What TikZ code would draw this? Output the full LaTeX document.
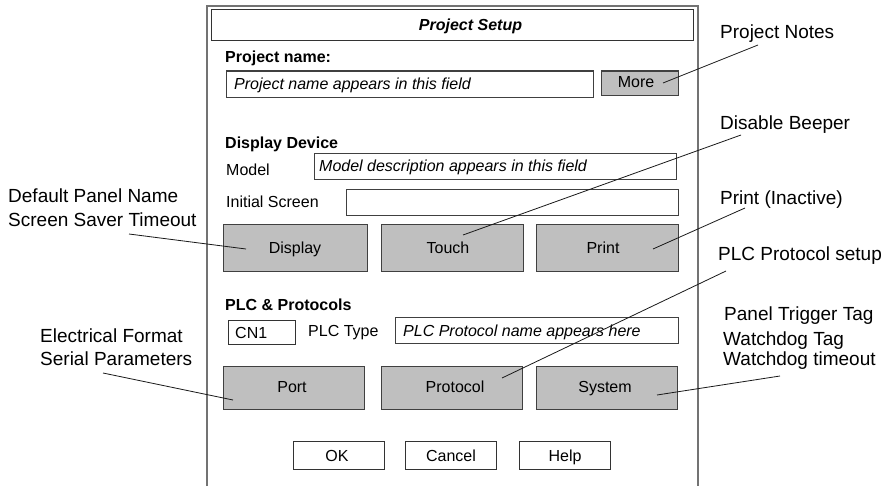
\documentclass[tikz,border=0pt]{standalone}
\usepackage{fontspec}
\setmainfont{Liberation Sans}
\tikzset{
 x=1pt,y=-1pt,
 frame/.style={draw=black!55,line width=1.3pt},
 fieldbox/.style={draw=black!75,line width=1pt,fill=white},
 btn/.style={draw=black!75,line width=1pt,fill=black!25},
 whitebtn/.style={draw=black!80,line width=1pt,fill=white},
 lbl/.style={anchor=base west,inner sep=0pt,font=\fontsize{16}{16}\selectfont},
 blbl/.style={lbl,font=\fontsize{16}{16}\selectfont\bfseries},
 ilbl/.style={lbl,font=\fontsize{16}{16}\selectfont\itshape},
 ctr/.style={anchor=base,inner sep=0pt,font=\fontsize{16}{16}\selectfont},
 call/.style={anchor=base west,inner sep=0pt,font=\fontsize{19}{19}\selectfont},
 cline/.style={draw=black!90,line width=0.8pt},
}
\newcommand{\boxnode}[6]{\node[#1,inner sep=0pt,outer sep=0pt,minimum width=#4pt-#2pt,minimum height=#5pt-#3pt,anchor=south east] (#6) at (#4,#5) {};}
\begin{document}
\begin{tikzpicture}
\useasboundingbox (0,0) rectangle (883,487);
\coordinate (fa) at (207,486);
\coordinate (fb) at (207,6);
\coordinate (fc) at (698,6);
\coordinate (fd) at (698,486);
\draw[frame] (fa) -- (fb) -- (fc) -- (fd);
\boxnode{whitebtn}{211}{10}{693}{41}{titlebox}
\node[ctr,font=\fontsize{16}{16}\selectfont\bfseries\itshape] (title) at (470.5,31) {Project Setup};
\node[blbl] (pn) at (225,63) {Project name:};
\boxnode{fieldbox}{226}{71}{593}{97}{pnbox}
\node[ilbl] (pnf) at (234,89) {Project name appears in this field};
\boxnode{btn}{601}{71}{678}{95}{morebox}
\node[ctr] (more) at (636,88) {More};
\node[blbl] (dd) at (225,148) {Display Device};
\node[lbl] (model) at (226,175) {Model};
\boxnode{fieldbox}{314}{153}{676}{179}{mdbox}
\node[ilbl] (mdf) at (319,171) {Model description appears in this field};
\node[lbl] (is) at (226,207) {Initial Screen};
\boxnode{fieldbox}{346}{189}{678}{215}{isbox}
\boxnode{btn}{223}{224}{367}{271}{displaybox}
\node[ctr] (display) at (295,253) {Display};
\boxnode{btn}{381}{224}{523}{271}{touchbox}
\node[ctr] (touch) at (448,253) {Touch};
\boxnode{btn}{536}{224}{678}{271}{printbox}
\node[ctr] (print) at (603,253) {Print};
\node[blbl] (plc) at (225,310) {PLC \& Protocols};
\boxnode{whitebtn}{228}{320}{295}{344}{cnbox}
\node[lbl] (cn1) at (235,338) {CN1};
\node[lbl] (ptype) at (308,336) {PLC Type};
\boxnode{fieldbox}{395}{317}{678}{343}{pfbox}
\node[ilbl] (pf) at (403,336) {PLC Protocol name appears here};
\boxnode{btn}{223}{366}{364}{409}{portbox}
\node[ctr] (port) at (292,392) {Port};
\boxnode{btn}{381}{366}{522}{409}{protocolbox}
\node[ctr] (protocol) at (455,392) {Protocol};
\boxnode{btn}{536}{366}{677}{409}{systembox}
\node[ctr] (system) at (605,392) {System};
\boxnode{whitebtn}{293}{441}{384}{469}{okbox}
\node[ctr] (ok) at (337,461) {OK};
\boxnode{whitebtn}{405}{441}{496}{469}{cancelbox}
\node[ctr] (cancel) at (451,461) {Cancel};
\boxnode{whitebtn}{519}{441}{610}{469}{helpbox}
\node[ctr] (help) at (565,461) {Help};
% callouts
\node[call] (cnotes) at (720,38) {Project Notes};
\node[call] (cbeep) at (720,129) {Disable Beeper};
\node[call] (cprint) at (720,204) {Print (Inactive)};
\node[call] (cplc) at (718,260) {PLC Protocol setup};
\node[call] (cdef) at (8,202) {Default Panel Name};
\node[call] (cscr) at (8,226) {Screen Saver Timeout};
\node[call] (cele) at (40,342) {Electrical Format};
\node[call] (cser) at (40,365) {Serial Parameters};
\node[call] (ct1) at (724,320) {Panel Trigger Tag};
\node[call] (ct2) at (723,345) {Watchdog Tag};
\node[call] (ct3) at (723,365) {Watchdog timeout};
\coordinate (e1a) at (758,45); \coordinate (e1b) at (663,83);
\coordinate (e2a) at (741,135); \coordinate (e2b) at (463,235);
\coordinate (e3a) at (745,208); \coordinate (e3b) at (653,249);
\coordinate (e4a) at (726,271); \coordinate (e4b) at (502,378);
\coordinate (e5a) at (129,234); \coordinate (e5b) at (246,249);
\coordinate (e6a) at (103,373); \coordinate (e6b) at (233,400);
\coordinate (e7a) at (780,376); \coordinate (e7b) at (657,395);
\draw[cline] (e1a)--(e1b);
\draw[cline] (e2a)--(e2b);
\draw[cline] (e3a)--(e3b);
\draw[cline] (e4a)--(e4b);
\draw[cline] (e5a)--(e5b);
\draw[cline] (e6a)--(e6b);
\draw[cline] (e7a)--(e7b);
\end{tikzpicture}
\end{document}
